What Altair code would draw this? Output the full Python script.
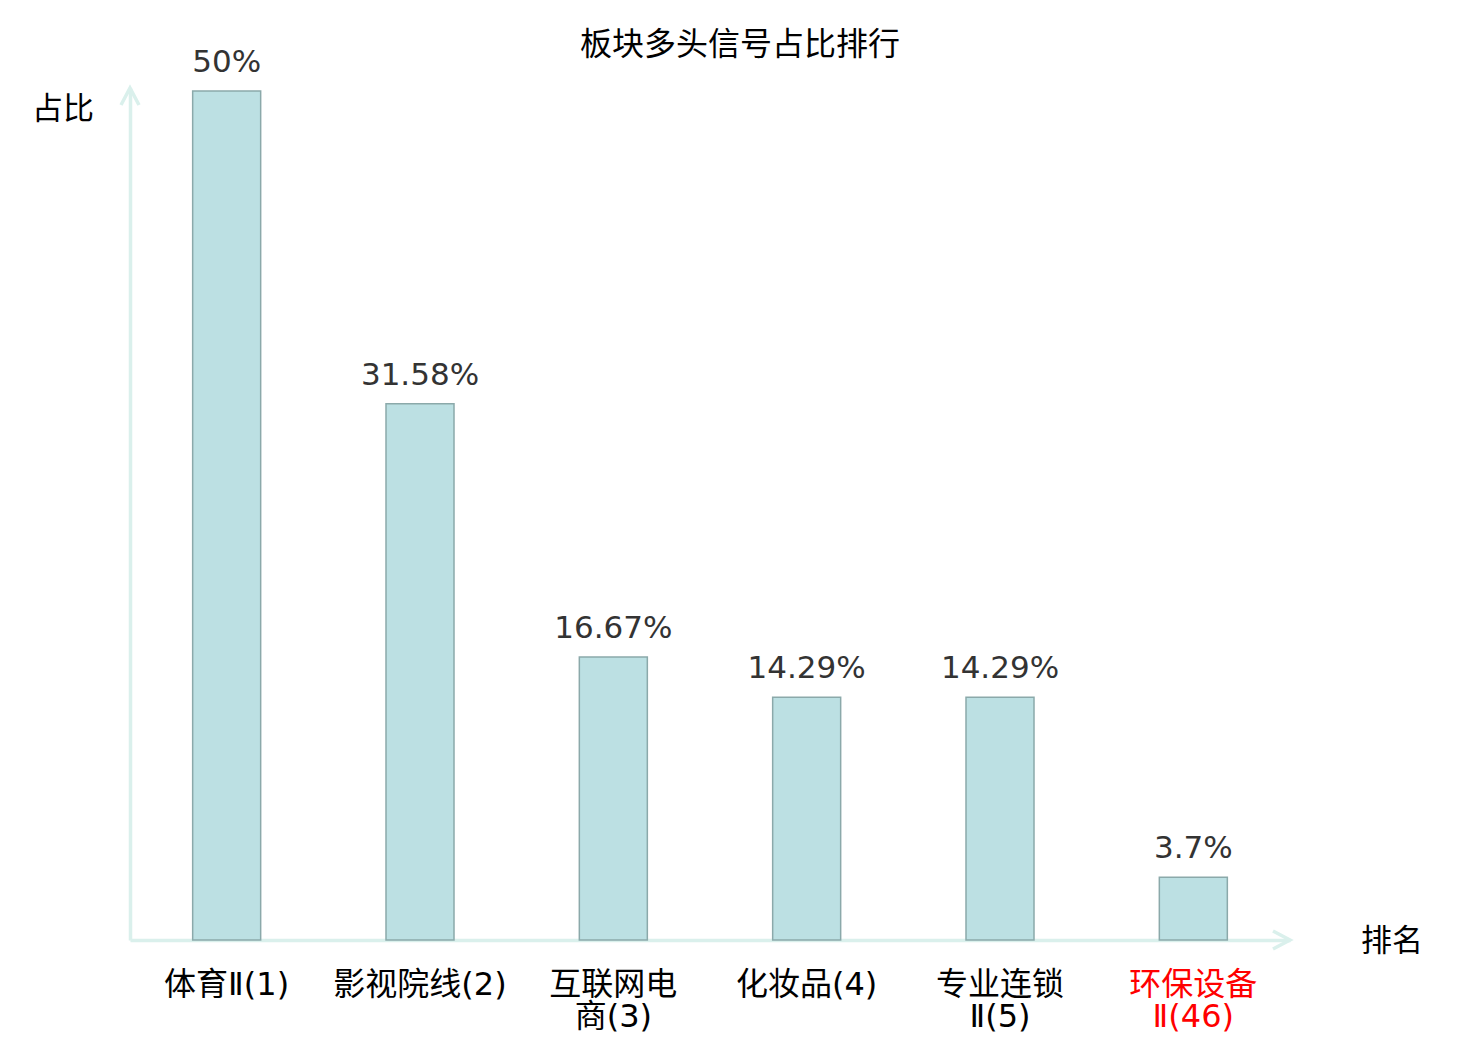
import altair as alt
import pandas as pd

# ---- data ----
categories = ["体育Ⅱ(1)", "影视院线(2)", "互联网电\n商(3)", "化妆品(4)", "专业连锁\nⅡ(5)", "环保设备\nⅡ(46)"]
values = [50, 31.58, 16.67, 14.29, 14.29, 3.7]
value_labels = ["50%", "31.58%", "16.67%", "14.29%", "14.29%", "3.7%"]
highlight = [False, False, False, False, False, True]
title_text = ["板块多头信号占比排行"]
y_title = ["占比"]
x_title = ["排名"]

df = pd.DataFrame({
    "cat": categories,
    "val": values,
    "lab": value_labels,
    "hl": ["yes" if h else "no" for h in highlight],
})

W, H = 1160, 852
AXIS_COLOR = "#daf0ec"
FONT_CJK = "Noto Sans CJK SC"
FONT_LABEL = "DejaVu Sans, Noto Sans CJK SC"

x_enc = alt.X("cat:N", sort=None,
              scale=alt.Scale(paddingInner=0, paddingOuter=0),
              axis=alt.Axis(title=None, labels=False, ticks=False, grid=False,
                            domainColor=AXIS_COLOR, domainWidth=3.5))
y_enc = alt.Y("val:Q", scale=alt.Scale(domain=[0, 50.18], nice=False, zero=True),
              axis=alt.Axis(title=None, labels=False, ticks=False, grid=False,
                            domainColor=AXIS_COLOR, domainWidth=3.5))

base = alt.Chart(df)

bars = base.mark_bar(width=68, fill="#bce0e3", stroke="#8ba9aa", strokeWidth=1.5).encode(
    x=x_enc, y=y_enc)

vals = base.mark_text(font="DejaVu Sans", fontSize=31, color="#333333",
                      baseline="alphabetic", dy=-19).encode(
    x=alt.X("cat:N", sort=None), y="val:Q", text="lab:N")

xlabels = base.mark_text(font=FONT_LABEL, fontSize=32, baseline="alphabetic",
                         lineBreak="\n", lineHeight=32).encode(
    x=alt.X("cat:N", sort=None),
    y=alt.value(H + 55),
    text="cat:N",
    color=alt.Color("hl:N", scale=alt.Scale(domain=["no", "yes"], range=["#000000", "#ff0000"]),
                    legend=None))

title = alt.Chart(pd.DataFrame({"t": title_text})).mark_text(
    font=FONT_CJK, fontSize=32, color="#000000", baseline="alphabetic").encode(
    x=alt.value(610), y=alt.value(-33), text="t:N")

ytitle = alt.Chart(pd.DataFrame({"t": y_title})).mark_text(
    font=FONT_CJK, fontSize=31, color="#000000", baseline="middle", align="left").encode(
    x=alt.value(-98), y=alt.value(22), text="t:N")

xtitle = alt.Chart(pd.DataFrame({"t": x_title})).mark_text(
    font=FONT_CJK, fontSize=31, color="#000000", baseline="middle", align="left").encode(
    x=alt.value(1231), y=alt.value(H + 2), text="t:N")

arrow_x = alt.Chart(pd.DataFrame({"t": [1]})).mark_point(
    shape="M-1,-0.53L0,0L-1,0.53", filled=False, stroke=AXIS_COLOR, strokeWidth=3.5,
    size=1156, opacity=1).encode(x=alt.value(W), y=alt.value(H))

arrow_y = alt.Chart(pd.DataFrame({"t": [1]})).mark_point(
    shape="M-0.53,1L0,0L0.53,1", filled=False, stroke=AXIS_COLOR, strokeWidth=3.5,
    size=1156, opacity=1).encode(x=alt.value(0), y=alt.value(0))

chart = alt.layer(bars, vals, xlabels, title, ytitle, xtitle, arrow_x, arrow_y).properties(
    width=W, height=H,
    background="white",
    autosize=alt.AutoSizeParams(type="none"),
    padding={"left": 122, "top": 80, "right": 160, "bottom": 100},
).configure_view(stroke=None)

chart.save("out.html", embed_options={"renderer": "svg", "actions": False})
